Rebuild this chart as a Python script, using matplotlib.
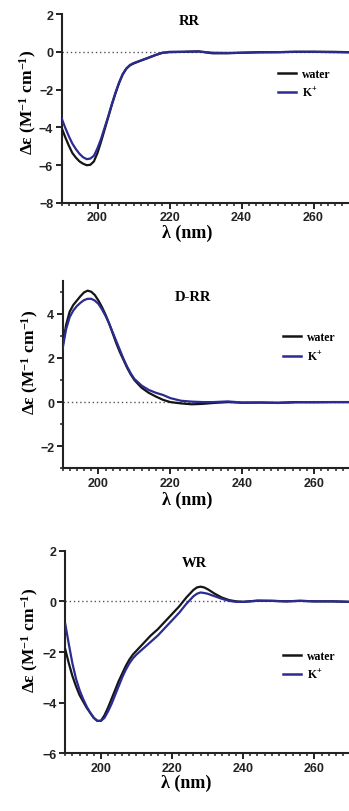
import matplotlib
matplotlib.use("Agg")
import matplotlib.pyplot as plt
from matplotlib.ticker import MultipleLocator, FixedLocator

plt.rcParams['mathtext.fontset'] = 'custom'
plt.rcParams['mathtext.rm'] = 'Liberation Serif:bold'
plt.rcParams['mathtext.it'] = 'Liberation Serif:bold'
plt.rcParams['mathtext.bf'] = 'Liberation Serif:bold'
plt.rcParams['mathtext.default'] = 'rm'

# ---------------- data ----------------
rr_wl = [190, 191, 192, 193, 194, 195, 196, 197, 198, 199, 200, 201, 202, 203, 204, 205, 206, 207, 208, 209,
         210, 212, 214, 216, 218, 220, 224, 228, 232, 236, 240, 245, 250, 255, 260, 265, 270]
rr_water = [-4.0, -4.5, -4.95, -5.35, -5.6, -5.8, -5.92, -6.0, -5.98, -5.8, -5.35, -4.75, -4.1, -3.45, -2.8,
            -2.2, -1.65, -1.2, -0.9, -0.72, -0.62, -0.47, -0.33, -0.18, -0.05, -0.02, 0.0, 0.02, -0.08, -0.08,
            -0.05, -0.02, -0.02, 0.0, 0.0, 0.0, -0.02]
rr_k = [-3.5, -4.0, -4.45, -4.85, -5.15, -5.4, -5.58, -5.68, -5.65, -5.5, -5.1, -4.6, -4.0, -3.4, -2.75,
        -2.15, -1.62, -1.18, -0.88, -0.7, -0.6, -0.46, -0.32, -0.18, -0.06, 0.0, 0.0, 0.02, -0.05, -0.06,
        -0.05, -0.03, -0.02, 0.0, 0.0, -0.02, -0.03]

drr_wl = [190, 191, 192, 193, 194, 195, 196, 197, 198, 199, 200, 201, 202, 203, 204, 205, 206, 207, 208, 209,
          210, 212, 214, 216, 218, 220, 223, 226, 229, 232, 236, 240, 245, 250, 255, 260, 265, 270]
drr_water = [2.5, 3.5, 4.1, 4.4, 4.6, 4.8, 4.97, 5.05, 5.0, 4.85, 4.6, 4.3, 3.95, 3.55, 3.1, 2.65, 2.25, 1.9,
             1.55, 1.25, 1.0, 0.65, 0.42, 0.25, 0.1, 0.0, -0.06, -0.1, -0.08, -0.04, 0.0, -0.03, -0.02, -0.03,
             0.0, -0.01, 0.0, 0.0]
drr_k = [2.4, 3.3, 3.85, 4.15, 4.35, 4.5, 4.62, 4.68, 4.68, 4.6, 4.45, 4.2, 3.9, 3.55, 3.15, 2.75, 2.35, 1.95,
         1.6, 1.3, 1.05, 0.75, 0.55, 0.42, 0.32, 0.18, 0.06, 0.02, 0.0, 0.0, 0.03, -0.02, -0.02, -0.04,
         -0.01, 0.0, 0.0, 0.0]

wr_wl = [190, 191, 192, 193, 194, 195, 196, 197, 198, 199, 200, 201, 202, 203, 204, 205, 206, 207, 208, 209,
         210, 212, 214, 216, 218, 220, 222, 224, 226, 227, 228, 229, 230, 232, 234, 236, 238, 240, 244, 248,
         252, 256, 260, 265, 270]
wr_water = [-1.9, -2.45, -2.95, -3.35, -3.7, -3.95, -4.2, -4.4, -4.6, -4.72, -4.72, -4.5, -4.2, -3.85, -3.5,
            -3.15, -2.85, -2.55, -2.3, -2.1, -1.95, -1.65, -1.35, -1.1, -0.8, -0.5, -0.2, 0.15, 0.45, 0.55,
            0.58, 0.55, 0.48, 0.3, 0.15, 0.05, 0.0, -0.02, 0.03, 0.02, 0.0, 0.02, 0.0, 0.0, -0.02]
wr_k = [-0.9, -1.7, -2.45, -3.05, -3.5, -3.85, -4.15, -4.4, -4.6, -4.72, -4.72, -4.6, -4.35, -4.05, -3.7,
        -3.35, -3.0, -2.7, -2.45, -2.25, -2.1, -1.85, -1.6, -1.35, -1.05, -0.75, -0.45, -0.1, 0.2, 0.3,
        0.35, 0.33, 0.3, 0.2, 0.1, 0.02, -0.02, -0.02, 0.02, 0.02, 0.0, 0.02, 0.0, 0.0, -0.02]

titles = ["RR", "D-RR", "WR"]
series_labels = ["water", "K$^{+}$"]
x_ticks = [200, 220, 240, 260]

# ---------------- layout / style ----------------
W, H = 349, 812
fig = plt.figure(figsize=(W / 100, H / 100), dpi=100)

def rect(l, r, t, b):
    return [l / W, 1 - b / H, (r - l) / W, (b - t) / H]

panels = [
    dict(rect=rect(61.5, 349.5, 15, 204), wl=rr_wl, a=rr_water, b=rr_k, ylim=(-8, 2),
         yticks=[-8, -6, -4, -2, 0, 2], yminor=None, title=titles[0], tpos=(0.443, 0.963),
         leg=(0.752, 0.632), xl=(0.436, -0.153), yl=(-0.115, 0.54)),
    dict(rect=rect(62.5, 350.0, 281.7, 469.3), wl=drr_wl, a=drr_water, b=drr_k, ylim=(-3, 5.5),
         yticks=[-2, 0, 2, 4], yminor=[-3, -1, 1, 3, 5], title=titles[1], tpos=(0.454, 0.918),
         leg=(0.767, 0.647), xl=(0.433, -0.164), yl=(-0.113, 0.572)),
    dict(rect=rect(65.3, 350.0, 551.7, 754.3), wl=wr_wl, a=wr_water, b=wr_k, ylim=(-6, 2),
         yticks=[-6, -4, -2, 0, 2], yminor=None, title=titles[2], tpos=(0.452, 0.944),
         leg=(0.766, 0.433), xl=(0.426, -0.143), yl=(-0.122, 0.564)),
]

black = '#151515'
blue = '#2b2b92'
serif = 'Liberation Serif'
sans = 'Liberation Sans'

for p in panels:
    ax = fig.add_axes(p['rect'])
    ax.axhline(0, color='#555555', lw=1.0, ls=(0, (1, 2)), zorder=1)
    ax.plot(p['wl'], p['a'], color=black, lw=1.6, label=series_labels[0], zorder=3)
    ax.plot(p['wl'], p['b'], color=blue, lw=1.6, label=series_labels[1], zorder=4)
    ax.set_xlim(190, 270)
    ax.set_ylim(*p['ylim'])
    ax.set_xticks(x_ticks)
    ax.xaxis.set_minor_locator(MultipleLocator(2))
    ax.set_yticks(p['yticks'])
    if p['yminor']:
        ax.yaxis.set_minor_locator(FixedLocator(p['yminor']))
    for s in ['top', 'right']:
        ax.spines[s].set_visible(False)
    for s in ['left', 'bottom']:
        ax.spines[s].set_linewidth(1.5)
        ax.spines[s].set_color('#222222')
    ax.tick_params(which='major', direction='out', length=4, width=1.4, color='#222222', pad=2)
    ax.tick_params(which='minor', direction='out', length=2.5, width=1.1, color='#222222')
    for lab in ax.get_xticklabels() + ax.get_yticklabels():
        lab.set_fontfamily(sans)
        lab.set_fontweight('bold')
        lab.set_fontsize(9)
        lab.set_color('#222222')
    ax.text(p['tpos'][0], p['tpos'][1], p['title'], transform=ax.transAxes, ha='center', va='center',
            fontfamily=serif, fontweight='bold', fontsize=10.5)
    ax.text(p['xl'][0], p['xl'][1], "λ (nm)", transform=ax.transAxes, ha='center', va='center',
            fontfamily=serif, fontweight='bold', fontsize=13)
    ax.text(p['yl'][0], p['yl'][1], "Δε (M$^{-1}$ cm$^{-1}$)", transform=ax.transAxes, ha='center',
            va='center', rotation=90, fontfamily=serif, fontweight='bold', fontsize=12.5)
    leg = ax.legend(loc='center left', bbox_to_anchor=p['leg'], frameon=False, borderpad=0,
                    borderaxespad=0, handlelength=1.5, handletextpad=0.5, labelspacing=0.55,
                    prop=dict(family=serif, weight='bold', size=8.5))
    for line in leg.get_lines():
        line.set_linewidth(1.8)

fig.savefig("out.png", dpi=100)
